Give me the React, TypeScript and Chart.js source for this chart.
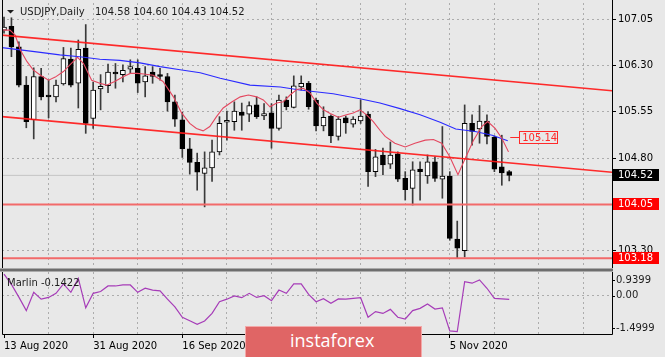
import React, { useEffect, useRef } from 'react';
import { Chart, registerables } from 'chart.js';
Chart.register(...registerables);

const FONT = '"DejaVu Sans", Verdana, sans-serif';
const BG = '#e8e8e8';
const GRID = '#acacac';

// Daily OHLC, 13 Aug 2020 .. 17 Nov 2020 (bar index 0..68)
const opens = [106.87, 106.93, 106.60, 105.98, 105.42, 106.12, 105.82, 105.79, 106.00, 106.40, 106.01, 106.58, 105.44, 105.92, 105.97, 106.19, 106.15, 106.24, 106.25, 106.03, 106.19, 106.15, 106.12, 105.71, 105.42, 104.95, 104.73, 104.55, 104.64, 104.90, 105.38, 105.39, 105.54, 105.51, 105.66, 105.48, 105.53, 105.28, 105.74, 105.62, 105.95, 106.01, 105.74, 105.32, 105.48, 105.15, 105.45, 105.35, 105.40, 105.51, 104.58, 104.85, 104.70, 104.87, 104.47, 104.31, 104.62, 104.51, 104.74, 104.46, 104.51, 103.49, 103.30, 105.36, 105.27, 105.40, 105.14, 104.66, 104.58];
const highs = [107.08, 107.07, 106.68, 106.12, 106.26, 106.25, 106.06, 106.06, 106.59, 106.58, 106.71, 106.96, 106.03, 106.15, 106.32, 106.33, 106.31, 106.39, 106.39, 106.28, 106.28, 106.25, 106.17, 105.82, 105.54, 105.12, 104.88, 104.90, 105.09, 105.47, 105.56, 105.71, 105.69, 105.71, 105.79, 105.68, 105.68, 105.82, 105.79, 106.13, 106.13, 106.04, 105.77, 105.63, 105.50, 105.47, 105.48, 105.47, 105.74, 105.55, 104.94, 104.96, 105.06, 104.90, 104.58, 104.74, 104.74, 104.85, 104.82, 105.31, 104.58, 103.78, 105.66, 105.50, 105.65, 105.50, 105.16, 105.17, 104.60];
const lows = [106.82, 106.44, 105.95, 105.29, 105.11, 105.74, 105.45, 105.71, 105.98, 105.95, 105.61, 105.20, 105.28, 105.58, 105.86, 105.93, 106.03, 106.17, 105.86, 105.79, 106.01, 106.06, 105.56, 105.31, 104.81, 104.54, 104.28, 104.01, 104.42, 104.85, 105.09, 105.25, 105.25, 105.39, 105.44, 105.42, 104.96, 105.25, 105.58, 105.61, 105.90, 105.59, 105.24, 105.24, 105.05, 105.09, 105.20, 105.30, 105.36, 104.34, 104.50, 104.53, 104.63, 104.42, 104.12, 104.04, 104.12, 104.39, 104.42, 104.15, 103.47, 103.18, 103.20, 105.01, 105.04, 105.03, 104.58, 104.36, 104.43];
const closes = [106.92, 106.60, 105.98, 105.39, 106.12, 105.79, 105.79, 105.98, 106.41, 105.98, 106.56, 105.36, 105.90, 105.96, 106.19, 106.16, 106.22, 106.28, 106.01, 106.13, 106.12, 106.12, 105.71, 105.43, 104.95, 104.73, 104.57, 104.64, 104.90, 105.36, 105.41, 105.56, 105.49, 105.65, 105.47, 105.52, 105.28, 105.74, 105.63, 105.97, 106.01, 105.63, 105.32, 105.46, 105.16, 105.43, 105.37, 105.43, 105.48, 104.58, 104.82, 104.69, 104.85, 104.46, 104.29, 104.61, 104.58, 104.74, 104.47, 104.51, 103.50, 103.34, 105.36, 105.23, 105.40, 105.15, 104.62, 104.56, 104.52];

// Fast moving average (red): bar position / value
const fastMaX = [-0.1, 0.8, 1.5, 2.2, 3.1, 3.9, 4.9, 6.0, 6.9, 8.0, 8.9, 9.9, 10.7, 11.8, 12.9, 13.8, 14.9, 16.1, 17.0, 17.9, 18.8, 20.1, 21.4, 22.8, 23.9, 25.0, 25.9, 26.8, 27.7, 28.6, 29.5, 30.7, 31.8, 32.9, 34.0, 34.9, 35.8, 36.7, 37.6, 38.5, 39.4, 40.3, 41.2, 42.1, 43.0, 43.9, 45.0, 46.1, 47.0, 47.9, 48.8, 49.7, 50.6, 51.3, 52.6, 54.0, 55.3, 56.7, 57.8, 58.9, 60.0, 61.1, 62.1, 63.2, 64.3, 65.1, 66.1, 67.0, 67.9];
const fastMaY = [106.87, 106.87, 106.79, 106.55, 106.36, 106.23, 106.14, 106.06, 106.11, 106.20, 106.31, 106.43, 106.33, 106.06, 106.01, 105.98, 106.04, 106.12, 106.17, 106.17, 106.16, 106.14, 106.04, 105.79, 105.53, 105.36, 105.28, 105.24, 105.31, 105.47, 105.61, 105.71, 105.79, 105.82, 105.79, 105.74, 105.63, 105.69, 105.71, 105.82, 105.91, 105.93, 105.85, 105.69, 105.58, 105.52, 105.46, 105.50, 105.53, 105.58, 105.50, 105.39, 105.25, 105.15, 105.04, 104.98, 105.04, 105.09, 105.10, 105.04, 104.82, 104.53, 104.80, 105.09, 105.31, 105.39, 105.28, 105.12, 104.90];

// Slow moving average (blue)
const slowMaX = [-0.5, 2.2, 4.9, 7.5, 10.2, 12.9, 15.6, 18.3, 21.0, 23.7, 26.4, 29.1, 33.1, 37.2, 39.8, 44.3, 47.9, 50.6, 53.3, 56.0, 58.7, 60.8, 63.4, 65.7, 67.8];
const slowMaY = [106.59, 106.55, 106.51, 106.47, 106.44, 106.40, 106.38, 106.34, 106.28, 106.23, 106.18, 106.09, 105.98, 105.95, 105.90, 105.84, 105.76, 105.69, 105.60, 105.50, 105.38, 105.27, 105.23, 105.17, 105.08];

// Marlin oscillator per bar
const marlin = [0.86, 0.45, -0.05, -0.58, 0.14, -0.13, -0.06, 0.10, 0.47, 0.14, 0.69, -0.47, 0.10, 0.17, 0.39, 0.39, 0.43, 0.43, 0.14, 0.30, 0.23, 0.20, -0.13, -0.43, -0.84, -0.98, -1.12, -0.99, -0.69, -0.23, -0.13, 0.00, -0.07, 0.10, -0.06, 0.01, -0.19, 0.23, 0.10, 0.47, 0.47, 0.06, -0.23, -0.11, -0.29, -0.12, -0.13, -0.10, -0.07, -0.84, -0.62, -0.69, -0.53, -0.84, -0.91, -0.58, -0.49, -0.32, -0.52, -0.47, -1.38, -1.41, 0.56, 0.50, 0.63, 0.30, -0.10, -0.12, -0.14];
const marlinLast = -0.1422;

// Channel lines: value at left edge, value at right edge
const upperChannel = [106.79, 105.89];
const lowerChannel = [105.47, 104.57];
const levels = [104.05, 103.18];
const lastPrice = 104.52;
const maLabel = 105.14;

const priceTicks = [103.3, 104.8, 105.55, 106.3, 107.05];
const marlinTicks = [0.9399, 0, -1.4999];
const gridBars = [6, 12, 18, 24, 30, 36, 42, 48, 54, 60, 66, 72, 78];
const tickBars = [0, 12, 24, 36, 48, 60];
const tickDates = ['13 Aug 2020', '31 Aug 2020', '16 Sep 2020', '2 Oct 2020', '20 Oct 2020', '5 Nov 2020'];

const X_MIN = -0.27;
const X_MAX = 81.83;
const Y_MIN = 103.021;
const Y_MAX = 107.309;

const noPad = (s: any) => {
  s.paddingTop = 0;
  s.paddingBottom = 0;
  s.paddingLeft = 0;
  s.paddingRight = 0;
};

function mainConfig(): any {
  const idx = opens.map((_, i) => i);
  const line = (pts: { x: number; y: number }[], color: string, width: number, order: number) => ({
    type: 'line', data: pts, borderColor: color, borderWidth: width, pointRadius: 0, tension: 0, order,
  });
  const n = opens.length;
  const decor = {
    id: 'mainDecor',
    beforeDraw(chart: any) {
      const c = chart.ctx;
      c.save();
      c.fillStyle = BG;
      c.fillRect(0, 0, chart.width, chart.height);
      c.restore();
    },
    afterDraw(chart: any) {
      const { ctx, chartArea: a } = chart;
      const y = chart.scales.y;
      ctx.save();
      ctx.strokeStyle = '#000';
      ctx.lineWidth = 1;
      ctx.beginPath();
      ctx.moveTo(a.left + 0.5, 0);
      ctx.lineTo(a.left + 0.5, a.bottom);
      ctx.moveTo(a.right + 0.5, 0);
      ctx.lineTo(a.right + 0.5, a.bottom);
      ctx.stroke();
      // title
      ctx.fillStyle = '#1c1c1c';
      ctx.beginPath();
      ctx.moveTo(7, 10);
      ctx.lineTo(14, 10);
      ctx.lineTo(10.5, 13.5);
      ctx.closePath();
      ctx.fill();
      ctx.font = `10px ${FONT}`;
      ctx.textBaseline = 'middle';
      ctx.textAlign = 'left';
      ctx.fillText('USDJPY,Daily', 20, 12.5);
      ctx.fillText(`${opens[n - 1].toFixed(2)} ${highs[n - 1].toFixed(2)} ${lows[n - 1].toFixed(2)} ${closes[n - 1].toFixed(2)}`, 95, 12.5);
      // price boxes on the axis
      const box = (v: number, bg: string, fg: string) => {
        const py = Math.round(y.getPixelForValue(v));
        ctx.fillStyle = bg;
        ctx.fillRect(a.right + 1, py - 6, 46, 12);
        ctx.fillStyle = fg;
        ctx.fillText(v.toFixed(2), a.right + 6, py + 0.5);
      };
      box(lastPrice, '#000000', '#ffffff');
      box(levels[0], '#ff0000', '#ffffff');
      box(levels[1], '#ff0000', '#ffffff');
      // MA value label
      const x = chart.scales.x;
      const ly = Math.round(y.getPixelForValue(maLabel)) + 0.5;
      const lx = x.getPixelForValue(n - 1) + 1;
      ctx.strokeStyle = '#ff2a2a';
      ctx.beginPath();
      ctx.moveTo(lx, ly);
      ctx.lineTo(lx + 9, ly);
      ctx.stroke();
      ctx.strokeRect(Math.round(lx + 9) + 0.5, ly - 6, 38, 12);
      ctx.fillStyle = '#ff2a2a';
      ctx.fillText(maLabel.toFixed(2), lx + 12, ly + 0.5);
      ctx.restore();
    },
  };
  return {
    type: 'bar',
    data: {
      datasets: [
        line([{ x: X_MIN, y: upperChannel[0] }, { x: X_MAX, y: upperChannel[1] }], 'rgba(255,25,25,0.92)', 1.6, 0),
        line([{ x: X_MIN, y: lowerChannel[0] }, { x: X_MAX, y: lowerChannel[1] }], 'rgba(255,25,25,0.92)', 1.6, 0),
        line([{ x: X_MIN, y: levels[0] }, { x: X_MAX, y: levels[0] }], '#f26a6a', 2, 0),
        line([{ x: X_MIN, y: levels[1] }, { x: X_MAX, y: levels[1] }], '#f26a6a', 2, 0),
        line([{ x: X_MIN, y: lastPrice }, { x: X_MAX, y: lastPrice }], '#c4c4c4', 1, 5),
        line(fastMaX.map((v, i) => ({ x: v, y: fastMaY[i] })), '#e4475f', 1.1, 0),
        line(slowMaX.map((v, i) => ({ x: v, y: slowMaY[i] })), '#2a2aff', 1.1, 0),
        {
          type: 'bar',
          data: idx.map((i) => ({ x: i, y: [opens[i], closes[i]] })),
          backgroundColor: idx.map((i) => (closes[i] >= opens[i] ? '#ffffff' : '#000000')),
          borderColor: '#000000',
          borderWidth: 1,
          borderSkipped: false,
          barThickness: 5,
          grouped: false,
          order: 1,
        },
        {
          type: 'bar',
          data: idx.map((i) => ({ x: i, y: [lows[i], highs[i]] })),
          backgroundColor: '#3a3a3a',
          borderWidth: 0,
          barThickness: 1,
          grouped: false,
          order: 2,
        },
      ],
    },
    options: {
      animation: false,
      responsive: false,
      maintainAspectRatio: false,
      layout: { padding: { left: 2, top: 3, right: 0, bottom: 0 } },
      plugins: { legend: { display: false }, tooltip: { enabled: false } },
      scales: {
        x: {
          type: 'linear',
          min: X_MIN,
          max: X_MAX,
          offset: false,
          grid: { offset: false, color: GRID, drawTicks: false, lineWidth: 1 },
          border: { display: false, dash: [2, 3] },
          ticks: { display: false },
          afterBuildTicks: (s: any) => { s.ticks = gridBars.map((v) => ({ value: v })); },
          afterFit: (s: any) => { s.height = 0; noPad(s); },
        },
        y: {
          type: 'linear',
          position: 'right',
          min: Y_MIN,
          max: Y_MAX,
          grid: { color: GRID, tickColor: '#000', tickLength: 4, tickBorderDash: [] },
          border: { display: false, dash: [2, 3] },
          ticks: {
            font: { family: FONT, size: 10 },
            color: '#000',
            padding: 2,
            autoSkip: false,
            callback: (v: any) => Number(v).toFixed(2),
          },
          afterBuildTicks: (s: any) => { s.ticks = priceTicks.map((v) => ({ value: v })); },
          afterFit: (s: any) => { s.width = 53; noPad(s); },
        },
      },
    },
    plugins: [decor],
  };
}

function subConfig(): any {
  const decor = {
    id: 'subDecor',
    beforeDraw(chart: any) {
      const c = chart.ctx;
      c.save();
      c.fillStyle = BG;
      c.fillRect(0, 0, chart.width, chart.height);
      c.restore();
    },
    afterDraw(chart: any) {
      const { ctx, chartArea: a } = chart;
      const y = chart.scales.y;
      ctx.save();
      // separator between panels
      ctx.fillStyle = '#6e6e6e';
      ctx.fillRect(0, 0.5, a.right + 1, 3);
      ctx.strokeStyle = '#000';
      ctx.lineWidth = 1;
      ctx.beginPath();
      ctx.moveTo(a.left + 0.5, a.top);
      ctx.lineTo(a.left + 0.5, a.bottom + 0.5);
      ctx.lineTo(a.right + 0.5, a.bottom + 0.5);
      ctx.lineTo(a.right + 0.5, a.top);
      ctx.stroke();
      ctx.font = `10px ${FONT}`;
      ctx.textBaseline = 'middle';
      ctx.textAlign = 'left';
      ctx.fillStyle = '#1c1c1c';
      ctx.fillText(`Marlin ${marlinLast.toFixed(4)}`, 7, 15);
      marlinTicks.forEach((v) => {
        const raw = y.getPixelForValue(v);
        const py = Math.min(Math.max(raw, a.top + 8), a.bottom - 6);
        ctx.beginPath();
        ctx.moveTo(a.right + 1, Math.round(py) + 0.5);
        ctx.lineTo(a.right + 3, Math.round(py) + 0.5);
        ctx.stroke();
        ctx.fillText(v.toFixed(v === 0 ? 2 : 4), a.right + 4, py);
      });
      ctx.restore();
    },
  };
  const xTicks = [0, ...gridBars];
  return {
    type: 'line',
    data: {
      datasets: [
        {
          data: marlin.map((v, i) => ({ x: i, y: v })),
          borderColor: '#a63cb8',
          borderWidth: 1.2,
          pointRadius: 0,
          tension: 0,
        },
      ],
    },
    options: {
      animation: false,
      responsive: false,
      maintainAspectRatio: false,
      layout: { padding: { left: 2, top: 4, right: 0, bottom: 0 } },
      plugins: { legend: { display: false }, tooltip: { enabled: false } },
      scales: {
        x: {
          type: 'linear',
          min: X_MIN,
          max: X_MAX,
          grid: {
            color: (c: any) => (c.tick && c.tick.value === 0 ? 'rgba(0,0,0,0)' : GRID),
            tickColor: (c: any) => (c.tick && tickBars.includes(c.tick.value) ? '#000' : 'rgba(0,0,0,0)'),
            tickLength: 4,
            tickBorderDash: [],
          },
          border: { display: false, dash: [2, 3] },
          ticks: {
            autoSkip: false,
            maxRotation: 0,
            align: 'start',
            padding: 2,
            font: { family: FONT, size: 10 },
            color: '#000',
            callback: (v: any) => {
              const k = tickBars.indexOf(Number(v));
              return k >= 0 ? tickDates[k] : '';
            },
          },
          afterBuildTicks: (s: any) => { s.ticks = xTicks.map((v) => ({ value: v })); },
          afterFit: (s: any) => { s.height = 23; noPad(s); },
        },
        y: {
          type: 'linear',
          position: 'right',
          min: -1.4999,
          max: 0.9399,
          grid: { color: GRID, drawTicks: false },
          border: { display: false, dash: [2, 3] },
          ticks: { display: false },
          afterBuildTicks: (s: any) => { s.ticks = [{ value: 0 }]; },
          afterFit: (s: any) => { s.width = 53; noPad(s); },
        },
      },
    },
    plugins: [decor],
  };
}

export default function App() {
  const mainRef = useRef<HTMLCanvasElement>(null);
  const subRef = useRef<HTMLCanvasElement>(null);
  useEffect(() => {
    const c1 = new Chart(mainRef.current as HTMLCanvasElement, mainConfig());
    const c2 = new Chart(subRef.current as HTMLCanvasElement, subConfig());
    return () => {
      c1.destroy();
      c2.destroy();
    };
  }, []);
  return (
    <div style={{ position: 'fixed', left: 0, top: 0, width: 665, height: 357, background: BG, overflow: 'hidden' }}>
      <canvas ref={mainRef} width={665} height={268} style={{ position: 'absolute', left: 0, top: 0 }} />
      <canvas ref={subRef} width={665} height={89} style={{ position: 'absolute', left: 0, top: 268 }} />
      <div
        style={{
          position: 'absolute', left: 245, top: 326, width: 177, height: 32, boxSizing: 'border-box',
          background: '#e06565', borderTop: '1px solid #f3a8a8', borderLeft: '1px solid #f3a8a8', borderRight: '1px solid #f3a8a8',
        }}
      >
        <span style={{ position: 'absolute', left: 44, top: 4, color: '#ffffff', fontFamily: '"Open Sans", sans-serif', fontSize: 18, lineHeight: '18px', whiteSpace: 'nowrap' }}>
          instaforex
        </span>
      </div>
    </div>
  );
}
